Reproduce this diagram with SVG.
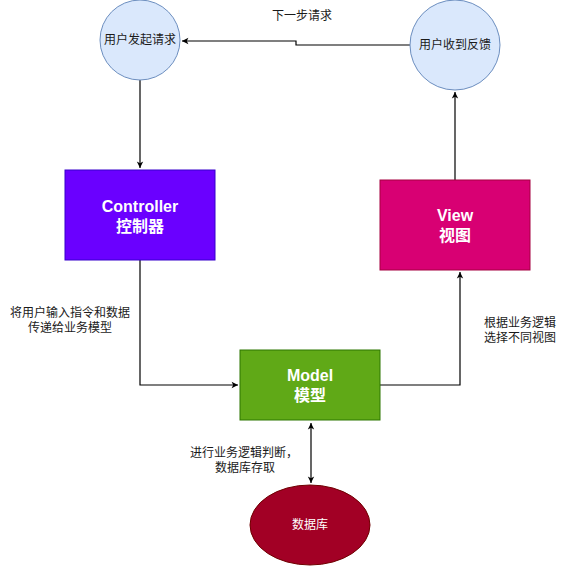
<svg xmlns="http://www.w3.org/2000/svg" width="570" height="566" viewBox="0 0 570 566">
<defs>
<marker id="ah" viewBox="0 0 10 10" refX="9" refY="5" markerWidth="8" markerHeight="8" orient="auto-start-reverse" markerUnits="userSpaceOnUse"><path d="M1,1 L9,5 L1,9 L3,5 Z" fill="#000"/></marker>
<style>
text{font-family:"Liberation Sans","Noto Sans CJK SC",sans-serif;text-anchor:middle;}
.lbl{font-size:12px;fill:#1a1a1a;}
.ctext{font-size:12px;fill:#1a1a1a;}
.btext{font-size:16px;font-weight:bold;fill:#fff;}
.conn{fill:none;stroke:#000;stroke-width:1.2;}
</style>
</defs>
<rect width="570" height="566" fill="#fff"/>
<g id="connectors">
<path class="conn" d="M410,45 H296 V41 H182" marker-end="url(#ah)"/>
<path class="conn" d="M140,80 V168" marker-end="url(#ah)"/>
<path class="conn" d="M140,260 V385 H238" marker-end="url(#ah)"/>
<path class="conn" d="M380,385 H460 V272" marker-end="url(#ah)"/>
<path class="conn" d="M455,180 V92" marker-end="url(#ah)"/>
<path class="conn" d="M311,423 V483" marker-start="url(#ah)" marker-end="url(#ah)"/>
</g>
<g id="labels">
<text class="lbl" x="302" y="20">下一步请求</text>
<text class="lbl" x="70" y="317">将用户输入指令和数据</text>
<text class="lbl" x="70" y="332">传递给业务模型</text>
<text class="lbl" x="520" y="327">根据业务逻辑</text>
<text class="lbl" x="520" y="342">选择不同视图</text>
<text class="lbl" x="244" y="457">进行业务逻辑判断，</text>
<text class="lbl" x="245" y="472">数据库存取</text>
</g>
<g id="user-request">
<circle cx="140" cy="40" r="40" fill="#dae8fc" stroke="#6c8ebf"/>
<text class="ctext" x="140" y="44">用户发起请求</text>
</g>
<g id="user-feedback">
<circle cx="455" cy="45" r="45" fill="#dae8fc" stroke="#6c8ebf"/>
<text class="ctext" x="455" y="49">用户收到反馈</text>
</g>
<g id="controller">
<rect x="65" y="170" width="150" height="90" fill="#6a00ff" stroke="#3700cc"/>
<text class="btext" x="140" y="212">Controller</text>
<text class="btext" x="140" y="232">控制器</text>
</g>
<g id="view">
<rect x="380" y="180" width="150" height="90" fill="#d80073" stroke="#a50040"/>
<text class="btext" x="455" y="221">View</text>
<text class="btext" x="455" y="241">视图</text>
</g>
<g id="model">
<rect x="240" y="350" width="140" height="70" fill="#60a917" stroke="#2d7600"/>
<text class="btext" x="310" y="381">Model</text>
<text class="btext" x="310" y="401">模型</text>
</g>
<g id="database">
<ellipse cx="310" cy="525" rx="60" ry="40" fill="#a20025" stroke="#6f0000"/>
<text x="310" y="529" style="font-size:12px;fill:#fff">数据库</text>
</g>
</svg>
